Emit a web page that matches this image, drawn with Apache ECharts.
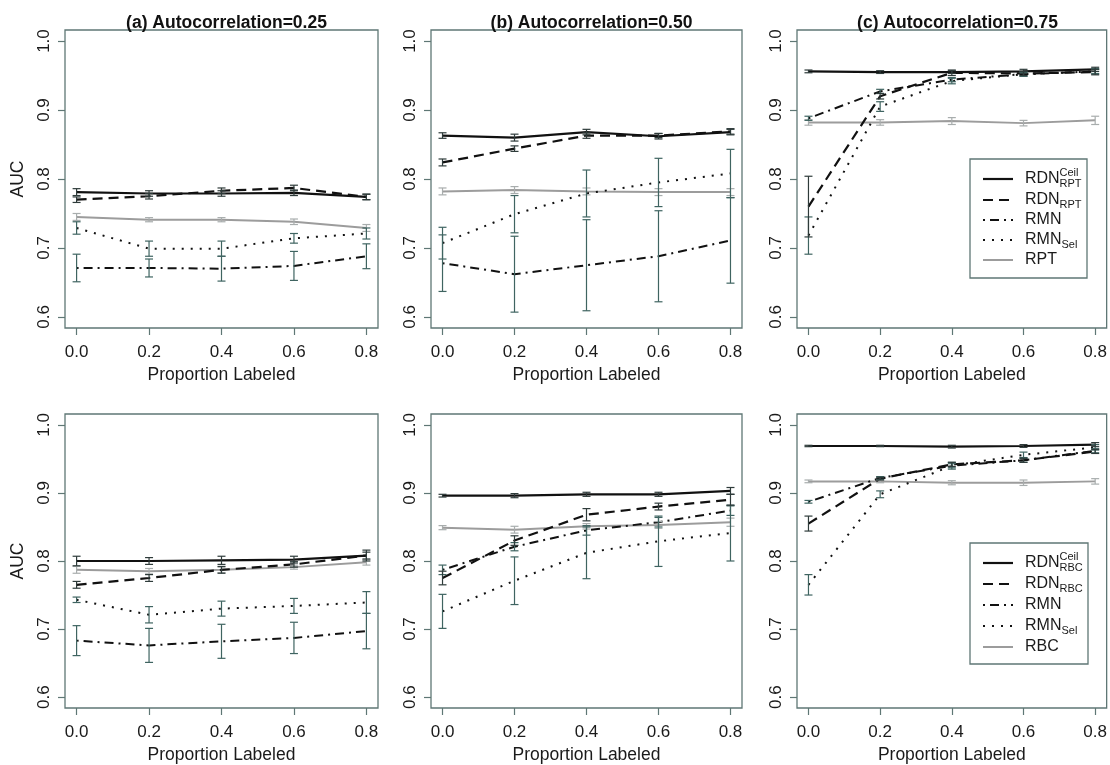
<!DOCTYPE html>
<html><head><meta charset="utf-8">
<script src="https://cdn.jsdelivr.net/npm/echarts@6/dist/echarts.min.js"></script>
<style>html,body{margin:0;padding:0;background:#fff}#c{width:1110px;height:765px}</style>
</head><body><div id="c"></div>
<script>
// ---------------- data ----------------
const xVals = [0.0, 0.2, 0.4, 0.6, 0.8];
const xTicks = [0.0, 0.2, 0.4, 0.6, 0.8];
const yTicks = [0.6, 0.7, 0.8, 0.9, 1.0];
const panelTitles = ['(a) Autocorrelation=0.25', '(b) Autocorrelation=0.50', '(c) Autocorrelation=0.75', '', '', ''];

// (a) RPT, autocorrelation 0.25
const a_ceil = [0.781, 0.779, 0.779, 0.780, 0.774];
const a_ceilErr = [0.005, 0.004, 0.004, 0.004, 0.004];
const a_rdn = [0.770, 0.775, 0.783, 0.787, 0.774];
const a_rdnErr = [0.004, 0.004, 0.004, 0.004, 0.004];
const a_rmn = [0.671, 0.671, 0.670, 0.674, 0.688];
const a_rmnErr = [0.020, 0.013, 0.018, 0.021, 0.018];
const a_sel = [0.729, 0.699, 0.699, 0.714, 0.721];
const a_selErr = [0.009, 0.011, 0.011, 0.007, 0.008];
const a_base = [0.745, 0.741, 0.741, 0.738, 0.729];
const a_baseErr = [0.005, 0.003, 0.003, 0.004, 0.005];

// (b) RPT, autocorrelation 0.50
const b_ceil = [0.863, 0.860, 0.868, 0.862, 0.868];
const b_ceilErr = [0.004, 0.005, 0.004, 0.004, 0.004];
const b_rdn = [0.824, 0.844, 0.863, 0.863, 0.869];
const b_rdnErr = [0.005, 0.004, 0.004, 0.003, 0.004];
const b_rmn = [0.678, 0.662, 0.675, 0.688, 0.711];
const b_rmnErr = [0.041, 0.055, 0.066, 0.066, 0.062];
const b_sel = [0.707, 0.749, 0.779, 0.795, 0.808];
const b_selErr = [0.023, 0.027, 0.034, 0.035, 0.035];
const b_base = [0.782, 0.784, 0.782, 0.781, 0.781];
const b_baseErr = [0.005, 0.005, 0.005, 0.005, 0.005];

// (c) RPT, autocorrelation 0.75
const c_ceil = [0.956, 0.955, 0.955, 0.956, 0.959];
const c_ceilErr = [0.002, 0.002, 0.002, 0.003, 0.003];
const c_rdn = [0.760, 0.920, 0.954, 0.953, 0.955];
const c_rdnErr = [0.044, 0.004, 0.004, 0.003, 0.004];
const c_rmn = [0.888, 0.927, 0.944, 0.952, 0.956];
const c_rmnErr = [0.003, 0.003, 0.003, 0.003, 0.003];
const c_sel = [0.718, 0.905, 0.942, 0.952, 0.956];
const c_selErr = [0.027, 0.007, 0.004, 0.003, 0.004];
const c_base = [0.882, 0.882, 0.884, 0.881, 0.885];
const c_baseErr = [0.004, 0.004, 0.005, 0.004, 0.006];

// (d) RBC, autocorrelation 0.25
const d_ceil = [0.800, 0.800, 0.801, 0.802, 0.808];
const d_ceilErr = [0.007, 0.005, 0.006, 0.005, 0.008];
const d_rdn = [0.765, 0.775, 0.787, 0.795, 0.808];
const d_rdnErr = [0.005, 0.005, 0.005, 0.004, 0.005];
const d_rmn = [0.683, 0.676, 0.682, 0.687, 0.697];
const d_rmnErr = [0.022, 0.025, 0.025, 0.023, 0.026];
const d_sel = [0.743, 0.721, 0.730, 0.734, 0.739];
const d_selErr = [0.004, 0.012, 0.011, 0.011, 0.016];
const d_base = [0.787, 0.785, 0.787, 0.791, 0.798];
const d_baseErr = [0.005, 0.004, 0.004, 0.003, 0.004];

// (e) RBC, autocorrelation 0.50
const e_ceil = [0.896, 0.896, 0.898, 0.898, 0.903];
const e_ceilErr = [0.002, 0.003, 0.003, 0.003, 0.005];
const e_rdn = [0.775, 0.830, 0.868, 0.880, 0.890];
const e_rdnErr = [0.010, 0.007, 0.009, 0.005, 0.008];
const e_rmn = [0.787, 0.821, 0.845, 0.857, 0.874];
const e_rmnErr = [0.007, 0.006, 0.007, 0.007, 0.007];
const e_sel = [0.726, 0.771, 0.812, 0.829, 0.841];
const e_selErr = [0.025, 0.035, 0.038, 0.037, 0.041];
const e_base = [0.849, 0.846, 0.851, 0.853, 0.857];
const e_baseErr = [0.003, 0.005, 0.004, 0.005, 0.006];

// (f) RBC, autocorrelation 0.75
const f_ceil = [0.969, 0.969, 0.968, 0.969, 0.971];
const f_ceilErr = [0.001, 0.001, 0.002, 0.002, 0.003];
const f_rdn = [0.855, 0.921, 0.942, 0.948, 0.961];
const f_rdnErr = [0.011, 0.002, 0.003, 0.003, 0.003];
const f_rmn = [0.887, 0.922, 0.940, 0.948, 0.962];
const f_rmnErr = [0.002, 0.002, 0.003, 0.003, 0.003];
const f_sel = [0.765, 0.898, 0.940, 0.956, 0.967];
const f_selErr = [0.015, 0.005, 0.005, 0.004, 0.004];
const f_base = [0.917, 0.917, 0.915, 0.915, 0.917];
const f_baseErr = [0.002, 0.002, 0.003, 0.004, 0.004];

// legend texts
const legendRPT = [['RDN', 'Ceil', 'RPT'], ['RDN', '', 'RPT'], ['RMN', '', ''], ['RMN', '', 'Sel'], ['RPT', '', '']];
const legendRBC = [['RDN', 'Ceil', 'RBC'], ['RDN', '', 'RBC'], ['RMN', '', ''], ['RMN', '', 'Sel'], ['RBC', '', '']];

// ---------------- build ----------------
const panels = [
  {ceil: a_ceil, ceilErr: a_ceilErr, rdn: a_rdn, rdnErr: a_rdnErr, rmn: a_rmn, rmnErr: a_rmnErr, sel: a_sel, selErr: a_selErr, base: a_base, baseErr: a_baseErr},
  {ceil: b_ceil, ceilErr: b_ceilErr, rdn: b_rdn, rdnErr: b_rdnErr, rmn: b_rmn, rmnErr: b_rmnErr, sel: b_sel, selErr: b_selErr, base: b_base, baseErr: b_baseErr},
  {ceil: c_ceil, ceilErr: c_ceilErr, rdn: c_rdn, rdnErr: c_rdnErr, rmn: c_rmn, rmnErr: c_rmnErr, sel: c_sel, selErr: c_selErr, base: c_base, baseErr: c_baseErr},
  {ceil: d_ceil, ceilErr: d_ceilErr, rdn: d_rdn, rdnErr: d_rdnErr, rmn: d_rmn, rmnErr: d_rmnErr, sel: d_sel, selErr: d_selErr, base: d_base, baseErr: d_baseErr},
  {ceil: e_ceil, ceilErr: e_ceilErr, rdn: e_rdn, rdnErr: e_rdnErr, rmn: e_rmn, rmnErr: e_rmnErr, sel: e_sel, selErr: e_selErr, base: e_base, baseErr: e_baseErr},
  {ceil: f_ceil, ceilErr: f_ceilErr, rdn: f_rdn, rdnErr: f_rdnErr, rmn: f_rmn, rmnErr: f_rmnErr, sel: f_sel, selErr: f_selErr, base: f_base, baseErr: f_baseErr}
];

const FONT = '"Liberation Sans", Arial, Helvetica, sans-serif';
const BOX = '#5f7775';
const styles = {
  ceil: {color: '#111', width: 2.2, type: 'solid', err: '#2e3b3a'},
  rdn:  {color: '#111', width: 2.2, type: [10, 6], err: '#2e3b3a'},
  rmn:  {color: '#111', width: 2.0, type: [2, 5, 9, 5], err: '#3f6461'},
  sel:  {color: '#111', width: 2.0, type: [2, 7], err: '#3f6461'},
  base: {color: '#9c9c9c', width: 2.0, type: 'solid', err: '#a8adad'}
};
const order = ['base', 'sel', 'rmn', 'rdn', 'ceil'];

const lefts = [65, 431, 797];
const widths = [313, 311, 311];
const tops = [30, 414];
const heights = [298, 299];

const grid = [], xAxis = [], yAxis = [], series = [], title = [];
panels.forEach((p, i) => {
  const col = i % 3, row = Math.floor(i / 3);
  grid.push({left: lefts[col], top: tops[row], width: widths[col], height: heights[row],
    show: true, borderColor: BOX, borderWidth: 1.3, backgroundColor: 'transparent', containLabel: false});
  if (panelTitles[i]) {
    title.push({text: panelTitles[i], left: lefts[col] + widths[col] / 2, top: 9, textAlign: 'center',
      textStyle: {fontFamily: FONT, fontWeight: 'bold', fontSize: 17.5, color: '#111'}});
  }
  xAxis.push({type: 'value', gridIndex: i, min: -0.032, max: 0.832,
    axisLine: {show: false, onZero: false},
    axisTick: {show: true, inside: false, length: 7, lineStyle: {color: BOX, width: 1.2}, customValues: xTicks},
    axisLabel: {show: true, customValues: xTicks, formatter: v => v.toFixed(1), margin: 16,
      fontFamily: FONT, fontSize: 17, color: '#1a1a1a'},
    splitLine: {show: false},
    name: 'Proportion Labeled', nameLocation: 'middle', nameGap: 38,
    nameTextStyle: {fontFamily: FONT, fontSize: 17.5, color: '#1a1a1a'}});
  yAxis.push({type: 'value', gridIndex: i, min: 0.584, max: 1.016,
    axisLine: {show: false, onZero: false},
    axisTick: {show: true, inside: false, length: 7, lineStyle: {color: BOX, width: 1.2}, customValues: yTicks},
    axisLabel: {show: true, customValues: yTicks, formatter: v => v.toFixed(1), rotate: 90, margin: 12,
      fontFamily: FONT, fontSize: 17, color: '#1a1a1a'},
    splitLine: {show: false},
    name: col === 0 ? 'AUC' : '', nameLocation: 'middle', nameGap: 38, nameRotate: 90,
    nameTextStyle: {fontFamily: FONT, fontSize: 17.5, color: '#1a1a1a'}});
  order.forEach(k => {
    const st = styles[k];
    const vals = p[k];
    series.push({type: 'line', xAxisIndex: i, yAxisIndex: i, symbol: 'none', silent: true,
      data: xVals.map((x, j) => [x, vals[j]]),
      lineStyle: {color: st.color, width: st.width, type: st.type}, z: 3});
  });
  order.forEach(k => {
    const st = styles[k];
    const vals = p[k], errs = p[k + 'Err'];
    series.push({type: 'custom', xAxisIndex: i, yAxisIndex: i, silent: true, z: 4,
      data: xVals.map((x, j) => [x, vals[j], errs[j]]),
      encode: {x: 0, y: 1},
      renderItem: (params, api) => {
        const x = api.value(0), y = api.value(1), e = api.value(2);
        const t = api.coord([x, y + e]), b = api.coord([x, y - e]);
        const hw = 4;
        const s = {stroke: st.err, lineWidth: 1.2};
        return {type: 'group', children: [
          {type: 'line', shape: {x1: t[0], y1: t[1], x2: b[0], y2: b[1]}, style: s},
          {type: 'line', shape: {x1: t[0] - hw, y1: t[1], x2: t[0] + hw, y2: t[1]}, style: s},
          {type: 'line', shape: {x1: b[0] - hw, y1: b[1], x2: b[0] + hw, y2: b[1]}, style: s}
        ]};
      }});
  });
});

// legends drawn as graphics
const legendKeys = ['ceil', 'rdn', 'rmn', 'sel', 'base'];
function buildLegend(box, rowsY, texts) {
  const els = [{type: 'rect', shape: {x: box.x, y: box.y, width: box.w, height: box.h},
    style: {fill: '#fff', stroke: BOX, lineWidth: 1.3}, z: 10}];
  texts.forEach((t, r) => {
    const st = styles[legendKeys[r]];
    const y = rowsY[r];
    els.push({type: 'line', shape: {x1: box.x + 13, y1: y, x2: box.x + 43, y2: y},
      style: {stroke: st.color, lineWidth: st.width, lineDash: st.type === 'solid' ? null : st.type}, z: 11});
    const tx = box.x + 55;
    els.push({type: 'text', x: tx, y: y, style: {text: t[0], fontFamily: FONT, fontSize: 16, fill: '#1a1a1a',
      verticalAlign: 'middle', align: 'left'}, z: 11});
    const w = t[0] === 'RMN' ? 36.5 : 34.5;
    if (t[1]) els.push({type: 'text', x: tx + w, y: y - 6, style: {text: t[1], fontFamily: FONT, fontSize: 11, fill: '#1a1a1a', verticalAlign: 'middle', align: 'left'}, z: 11});
    if (t[2]) els.push({type: 'text', x: tx + w, y: y + 5, style: {text: t[2], fontFamily: FONT, fontSize: 11, fill: '#1a1a1a', verticalAlign: 'middle', align: 'left'}, z: 11});
  });
  return els;
}
const graphic = [].concat(
  buildLegend({x: 970, y: 159, w: 117, h: 119}, [179, 200, 220, 240, 260], legendRPT),
  buildLegend({x: 970, y: 543, w: 118, h: 121}, [563, 584, 605, 626, 647], legendRBC)
);

const chart = echarts.init(document.getElementById('c'), null, {renderer: 'canvas'});
chart.setOption({animation: false, backgroundColor: '#fff', title, grid, xAxis, yAxis, series, graphic});
</script>
</body></html>
